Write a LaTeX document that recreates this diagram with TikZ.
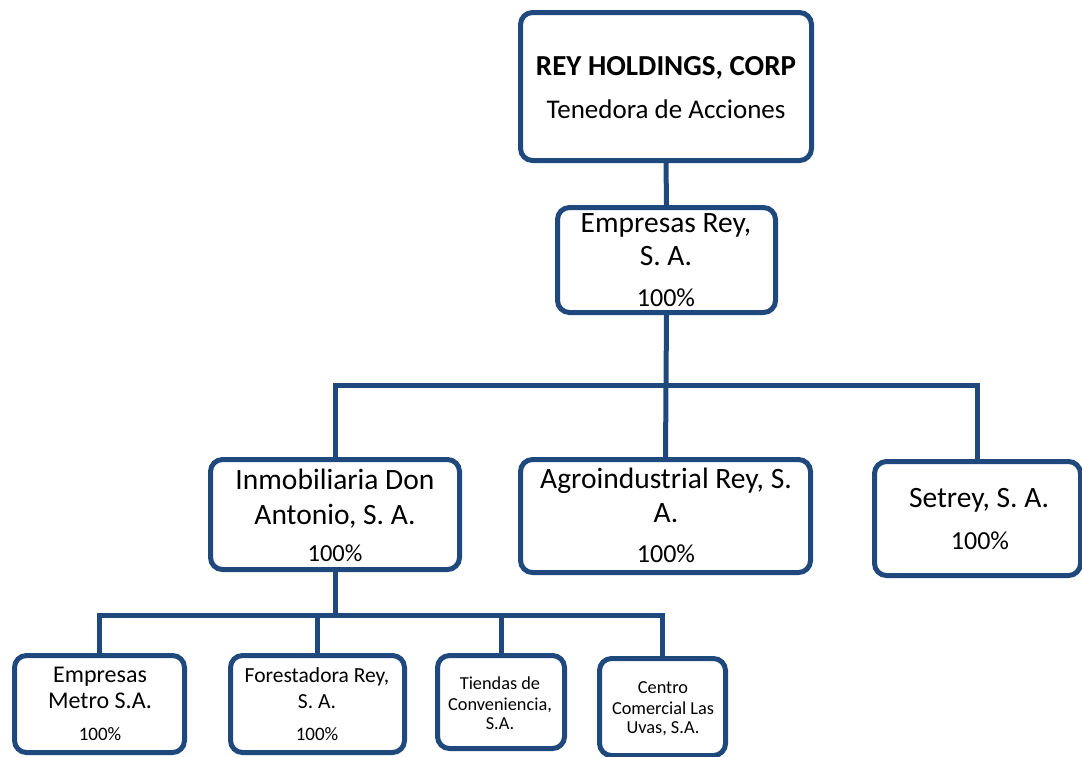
\documentclass[tikz,border=0pt]{standalone}
\usepackage{fontspec}
\setmainfont{Carlito}
\definecolor{frame}{HTML}{1F497D}
\begin{document}
\begin{tikzpicture}[x=1pt,y=-1pt,
  box/.style={draw=frame, line width=5pt, rounded corners=12pt, fill=white, inner sep=0pt},
  link/.style={draw=frame, line width=5pt},
  tl/.style={anchor=base, inner sep=0pt, font=\fontsize{29.5}{34}\selectfont},
  tm/.style={anchor=base, inner sep=0pt, font=\fontsize{26}{30}\selectfont},
  ts/.style={anchor=base, inner sep=0pt, font=\fontsize{24.5}{28}\selectfont},
  tb/.style={anchor=base, inner sep=0pt, font=\fontsize{24}{28}\selectfont},
  tf/.style={anchor=base, inner sep=0pt, font=\fontsize{21.5}{25}\selectfont},
  tp/.style={anchor=base, inner sep=0pt, font=\fontsize{19}{22}\selectfont},
  tx/.style={anchor=base, inner sep=0pt, font=\fontsize{18.3}{21}\selectfont}]
\useasboundingbox (0,0) rectangle (1082,756);
\coordinate (b1) at (666,385);
\coordinate (b2) at (335,615);
% boxes
\node[box, minimum width=291pt, minimum height=148pt] (top) at (666,86.5) {};
\node[box, minimum width=218pt, minimum height=105pt] (er) at (666.5,260) {};
\node[box, minimum width=249pt, minimum height=110pt] (inm) at (335,514.5) {};
\node[box, minimum width=290pt, minimum height=113pt] (agro) at (665.5,516) {};
\node[box, minimum width=206pt, minimum height=114pt] (set) at (977.5,518.5) {};
\node[box, minimum width=170pt, minimum height=97pt] (metro) at (99.5,704) {};
\node[box, minimum width=174pt, minimum height=97pt] (fore) at (317.5,704) {};
\node[box, minimum width=127pt, minimum height=93pt] (tien) at (501,702) {};
\node[box, minimum width=126pt, minimum height=97pt] (cen) at (662.5,707) {};
% connectors
\draw[link] (top.south) -- (er.north);
\draw[link] (er.south) -- (b1);
\draw[link] (inm.north) -- (inm.north |- b1) -- (set.north |- b1) -- (set.north);
\draw[link] (b1) -- (agro.north);
\draw[link] (inm.south) -- (b2);
\draw[link] (metro.north) -- (metro.north |- b2) -- (cen.north |- b2) -- (cen.north);
\draw[link] (fore.north |- b2) -- (fore.north);
\draw[link] (tien.north |- b2) -- (tien.north);
% texts
\node[tl, font=\fontsize{29}{34}\selectfont\bfseries] (t1) at (666,75) {REY HOLDINGS, CORP};
\node[tm, font=\fontsize{27}{31}\selectfont] (t2) at (666,118) {Tenedora de Acciones};
\node[tl] (e1) at (666,232) {Empresas Rey,};
\node[tl] (e2) at (666,265) {S. A.};
\node[tm] (e3) at (666,306) {100\%};
\node[tl] (i1) at (335,489) {Inmobiliaria Don};
\node[tl] (i2) at (335,524) {Antonio, S. A.};
\node[ts] (i3) at (335,561) {100\%};
\node[tl] (a1) at (666,488) {Agroindustrial Rey, S.};
\node[tl] (a2) at (666,522) {A.};
\node[tm] (a3) at (666,562) {100\%};
\node[tl] (s1) at (979,507) {Setrey, S. A.};
\node[tm] (s2) at (980,549) {100\%};
\node[tb] (m1) at (100,682) {Empresas};
\node[tb] (m2) at (100,708) {Metro S.A.};
\node[tp] (m3) at (100,740) {100\%};
\node[tf] (f1) at (317,682) {Forestadora Rey,};
\node[tf] (f2) at (317,708) {S. A.};
\node[tp] (f3) at (317,740) {100\%};
\node[tx] (c1) at (500,689) {Tiendas de};
\node[tx] (c2) at (500,710) {Conveniencia,};
\node[tx] (c3) at (500,729) {S.A.};
\node[tx] (d1) at (663,693) {Centro};
\node[tx] (d2) at (663,714) {Comercial Las};
\node[tx] (d3) at (663,733) {Uvas, S.A.};
\end{tikzpicture}
\end{document}
